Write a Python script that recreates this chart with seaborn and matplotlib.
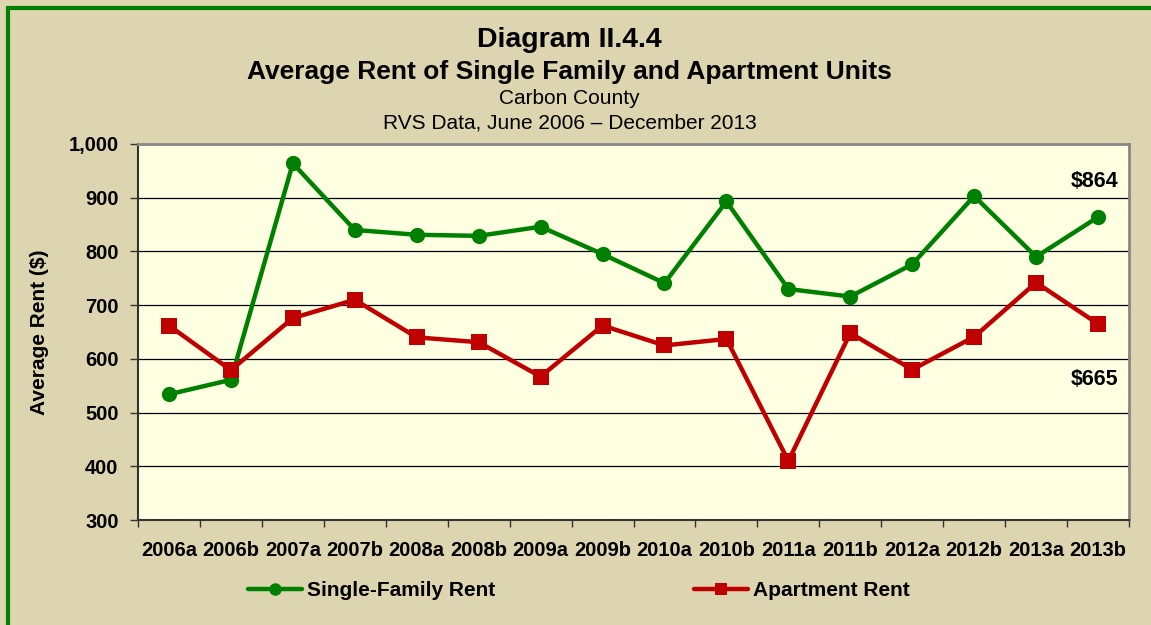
import pandas as pd
import seaborn as sns
import matplotlib.pyplot as plt
from matplotlib.patches import Rectangle
from matplotlib.ticker import FuncFormatter, MultipleLocator

periods = ['2006a', '2006b', '2007a', '2007b', '2008a', '2008b', '2009a', '2009b',
           '2010a', '2010b', '2011a', '2011b', '2012a', '2012b', '2013a', '2013b']
single_family = [534, 561, 964, 840, 831, 829, 846, 795, 741, 893, 730, 716, 776, 903, 790, 864]
apartment = [662, 579, 676, 710, 640, 631, 567, 662, 625, 637, 410, 648, 580, 641, 742, 665]

df = pd.DataFrame({
    'idx': list(range(len(periods))) * 2,
    'Rent': single_family + apartment,
    'Type': ['Single-Family Rent'] * len(periods) + ['Apartment Rent'] * len(periods),
})

sns.set_theme(style='white')
plt.rcParams['font.family'] = ['Liberation Sans', 'DejaVu Sans']
for k in ['text.color', 'axes.labelcolor', 'xtick.color', 'ytick.color']:
    plt.rcParams[k] = 'black'

bg = '#DDD5AF'
fig = plt.figure(figsize=(11.51, 6.25), dpi=100, facecolor=bg)
ax = fig.add_axes([0.1199, 0.168, 0.861, 0.6016])
ax.set_facecolor('#FFFFE1')

# green frame (right/bottom edges fall outside the image)
fig.patches.append(Rectangle((8 / 1151, -0.05), 1.2, 1 - 8 / 625 + 0.05, transform=fig.transFigure,
                             fill=False, edgecolor='#008000', linewidth=3))

sns.lineplot(data=df, x='idx', y='Rent', hue='Type', style='Type',
             palette={'Single-Family Rent': '#008000', 'Apartment Rent': '#C00000'},
             markers={'Single-Family Rent': 'o', 'Apartment Rent': 's'}, dashes=False,
             linewidth=3.2, markersize=11, markeredgewidth=0, ax=ax, legend=False, zorder=3)

ax.set_ylim(300, 1000)
ax.set_xlim(-0.5, len(periods) - 0.5)
ax.yaxis.set_major_locator(MultipleLocator(100))
ax.yaxis.set_major_formatter(FuncFormatter(lambda v, p: f'{int(v):,}'))
ax.grid(axis='y', color='black', linewidth=0.9)
ax.set_axisbelow(True)

ax.set_xticks(range(len(periods)))
ax.set_xticklabels(periods)
ax.set_xticks([i - 0.5 for i in range(len(periods) + 1)], minor=True)
ax.tick_params(axis='x', which='major', length=0, pad=15, labelsize=14.5)
ax.tick_params(axis='x', which='minor', length=5, width=1, color='#333333', direction='out', bottom=True)
ax.tick_params(axis='y', length=6, width=1, color='#333333', direction='out', left=True, labelsize=14.5, pad=8)
for lab in ax.get_xticklabels() + ax.get_yticklabels():
    lab.set_fontweight('bold')

ax.set_xlabel('')
ax.set_ylabel('Average Rent ($)', fontsize=15, fontweight='bold', labelpad=14)

for s in ['left', 'bottom']:
    ax.spines[s].set_color('#333333')
    ax.spines[s].set_linewidth(1.5)
for s in ['top', 'right']:
    ax.spines[s].set_color('#888888')
    ax.spines[s].set_linewidth(2)

ax.text(14.95, 931, '$864', ha='center', va='center', fontsize=15.5, fontweight='bold')
ax.text(14.95, 561, '$665', ha='center', va='center', fontsize=15.5, fontweight='bold')

fig.text(0.495, 1 - 40 / 625, 'Diagram II.4.4', ha='center', va='center', fontsize=20.5, fontweight='bold')
fig.text(0.495, 1 - 72 / 625, 'Average Rent of Single Family and Apartment Units', ha='center', va='center',
         fontsize=19, fontweight='bold')
fig.text(0.495, 1 - 98 / 625, 'Carbon County', ha='center', va='center', fontsize=15)
fig.text(0.495, 1 - 123 / 625, 'RVS Data, June 2006 \u2013 December 2013', ha='center', va='center', fontsize=15)

handles = [
    plt.Line2D([], [], color='#008000', marker='o', linewidth=3.2, markersize=9, markeredgewidth=0),
    plt.Line2D([], [], color='#C00000', marker='s', linewidth=3.2, markersize=9, markeredgewidth=0),
]
fig.legend(handles, ['Single-Family Rent', 'Apartment Rent'], loc='center', ncol=2,
           bbox_to_anchor=(0.503, 1 - 591 / 625), frameon=False, columnspacing=9.5,
           handlelength=2.6, handletextpad=0.25, prop={'size': 15, 'weight': 'bold'})

fig.savefig('out.png', dpi=100, facecolor=bg)
